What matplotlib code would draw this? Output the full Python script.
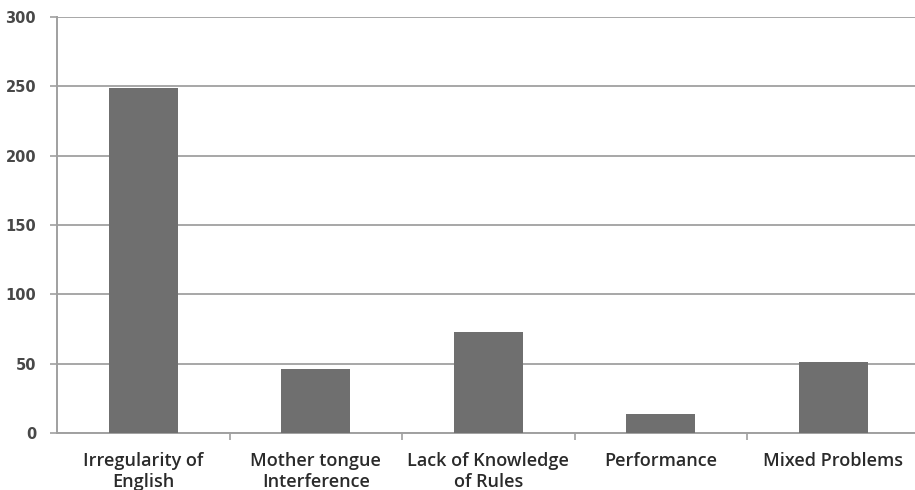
import matplotlib
matplotlib.use("Agg")
import matplotlib.pyplot as plt
from matplotlib.ticker import FixedLocator

categories = ["Irregularity of\nEnglish", "Mother tongue\nInterference",
              "Lack of Knowledge\nof Rules", "Performance", "Mixed Problems"]
counts = [249, 46, 73, 14, 51]
y_ticks = [0, 50, 100, 150, 200, 250, 300]

plt.rcParams["font.family"] = ["Open Sans", "DejaVu Sans"]

W, H = 915, 490
fig = plt.figure(figsize=(W / 100, H / 100), dpi=100)
left, bottom, top = 57, 433, 17
ax = fig.add_axes([left / W, (H - bottom) / H, 862.5 / W, (bottom - top) / H])

x = list(range(len(categories)))
ax.bar(x, counts, width=0.4, color="#6f6f6f", zorder=3)

ax.set_xlim(-0.5, len(categories) - 0.5)
ax.set_ylim(0, 300)
ax.set_yticks(y_ticks)
ax.set_yticklabels([str(v) for v in y_ticks], fontsize=10.5, color="#484848",
                   fontweight="bold", family=["DejaVu Sans"])
ax.yaxis.grid(True, color="#a0a0a0", linewidth=1.3, zorder=0)

ax.set_xticks(x)
ax.set_xticklabels(categories, fontsize=13, color="#2a2a2a",
                   fontweight="semibold", linespacing=1.2)
ax.tick_params(axis="x", length=0, pad=14)
ax.tick_params(axis="y", length=5, width=1.2, color="#a0a0a0", pad=10)
ax.xaxis.set_minor_locator(FixedLocator([i + 0.5 for i in range(len(categories))]))
ax.tick_params(axis="x", which="minor", length=5, width=1.2, color="#a0a0a0")

for side in ("top", "right"):
    ax.spines[side].set_visible(False)
for side in ("left", "bottom"):
    ax.spines[side].set_color("#a0a0a0")
    ax.spines[side].set_linewidth(1.4)

fig.savefig("out.png", dpi=100)
